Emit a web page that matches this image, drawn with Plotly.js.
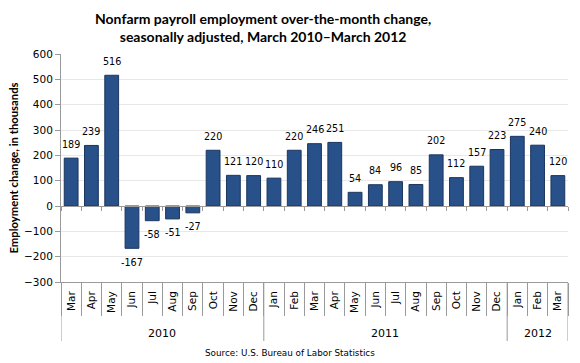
<!DOCTYPE html>
<html><head><meta charset="utf-8">
<script src="https://cdn.plot.ly/plotly-3.0.1.min.js"></script>
<style>html,body{margin:0;padding:0;background:#fff}#chart{width:580px;height:363px}</style>
</head><body><div id="chart"></div>
<script>
const years = ['2010','2010','2010','2010','2010','2010','2010','2010','2010','2010',
  '2011','2011','2011','2011','2011','2011','2011','2011','2011','2011','2011','2011',
  '2012','2012','2012'];
const months = ['Mar','Apr','May','Jun','Jul','Aug','Sep','Oct','Nov','Dec',
  'Jan','Feb','Mar','Apr','May','Jun','Jul','Aug','Sep','Oct','Nov','Dec',
  'Jan','Feb','Mar'];
const values = [189,239,516,-167,-58,-51,-27,220,121,120,
  110,220,246,251,54,84,96,85,202,112,157,223,
  275,240,120];
const yTicks = [-300,-200,-100,0,100,200,300,400,500,600];

const n = values.length;
const idx = values.map((_, i) => i);
const boundaries = Array.from({length: n + 1}, (_, i) => i - 0.5);

// year groups derived from the years array
const groups = [];
years.forEach((y, i) => {
  const g = groups[groups.length - 1];
  if (g && g.year === y) g.end = i; else groups.push({year: y, start: i, end: i});
});

const gray = '#9a9a9a';
const shapes = [];
const annotations = [];
groups.forEach((g, k) => {
  if (k === 0) {
    shapes.push({type: 'line', xref: 'x', yref: 'paper', x0: g.start - 0.5, x1: g.start - 0.5,
      y0: 0, y1: -59 / 228, line: {color: gray, width: 1}});
  }
  shapes.push({type: 'line', xref: 'x', yref: 'paper', x0: g.end + 0.5, x1: g.end + 0.5,
    y0: 0, y1: -59 / 228, line: {color: gray, width: 1}});
  annotations.push({text: g.year, xref: 'x', yref: 'paper', x: (g.start + g.end) / 2, y: 0,
    yshift: -51, xanchor: 'center', yanchor: 'middle', showarrow: false,
    font: {family: 'DejaVu Sans', size: 11, color: '#000'}});
});
// data labels, placed at each bar's value through the axes
values.forEach((v, i) => {
  annotations.push({text: String(v), xref: 'x', yref: 'y', x: idx[i], y: v,
    yshift: v >= 0 ? 14 : -14, xanchor: 'center', yanchor: 'middle', showarrow: false,
    font: {family: 'DejaVu Sans', size: 9.6, color: '#000'}});
});
annotations.push({
  text: '<b>Nonfarm payroll employment over-the-month change,</b><br><b>seasonally adjusted, March 2010\u2013March 2012</b>',
  xref: 'paper', yref: 'paper', x: 0.398, y: 1, yshift: 27,
  xanchor: 'center', yanchor: 'middle', showarrow: false,
  font: {family: 'Lato', size: 14, color: '#000'}
});
annotations.push({
  text: 'Source: U.S. Bureau of Labor Statistics',
  xref: 'paper', yref: 'paper', x: 0.452, y: 0, yshift: -71,
  xanchor: 'center', yanchor: 'middle', showarrow: false,
  font: {family: 'DejaVu Sans', size: 8.8, color: '#000'}
});

const traces = [{
  type: 'bar',
  x: idx,
  y: values,
  marker: {color: '#285089', line: {color: '#1b355f', width: 1}},
  hoverinfo: 'none'
}, {
  type: 'scatter', x: [-0.5, n - 0.5], y: [0, 0], xaxis: 'x2',
  mode: 'lines', line: {color: 'rgba(0,0,0,0)', width: 0}, hoverinfo: 'none'
}, {
  type: 'scatter', x: [-0.5, n - 0.5], y: [0, 0], xaxis: 'x3',
  mode: 'lines', line: {color: 'rgba(0,0,0,0)', width: 0}, hoverinfo: 'none'
}];

const layout = {
  width: 580, height: 363,
  margin: {l: 61, r: 12, t: 54, b: 81},
  paper_bgcolor: '#fff', plot_bgcolor: '#fff',
  showlegend: false,
  bargap: 0.32,
  font: {family: 'DejaVu Sans', size: 10, color: '#000'},
  xaxis: {
    range: [-0.5, n - 0.5],
    tickmode: 'array', tickvals: idx, ticktext: months,
    tickangle: -90, ticks: '', ticklabelstandoff: 4,
    showline: true, linecolor: gray, linewidth: 1,
    tickfont: {family: 'DejaVu Sans', size: 10.5, color: '#000'},
    showgrid: false, zeroline: false
  },
  xaxis2: {
    overlaying: 'x', anchor: 'free', position: 1/3,
    range: [-0.5, n - 0.5],
    tickmode: 'array', tickvals: boundaries,
    ticks: 'outside', ticklen: 4, tickcolor: gray,
    showticklabels: false, showgrid: false, zeroline: false,
    showline: true, linecolor: gray, linewidth: 1
  },
  xaxis3: {
    overlaying: 'x', anchor: 'y',
    range: [-0.5, n - 0.5],
    tickmode: 'array', tickvals: boundaries,
    ticks: 'outside', ticklen: 33, tickcolor: gray,
    showticklabels: false, showgrid: false, zeroline: false,
    showline: false
  },
  yaxis: {
    range: [-300, 600],
    tickmode: 'array', tickvals: yTicks,
    ticks: 'outside', ticklen: 5, tickcolor: gray,
    showline: true, linecolor: gray, linewidth: 1,
    showgrid: true, gridcolor: '#e8e8e8', gridwidth: 1,
    zeroline: false,
    tickfont: {family: 'DejaVu Sans', size: 10.5, color: '#000'},
    title: {text: '<b>Employment change, in thousands</b>',
      font: {family: 'Lato', size: 11.3, color: '#000'}, standoff: 3}
  },
  shapes: shapes,
  annotations: annotations
};

Plotly.newPlot('chart', traces, layout, {displayModeBar: false, staticPlot: true});
</script></body></html>
